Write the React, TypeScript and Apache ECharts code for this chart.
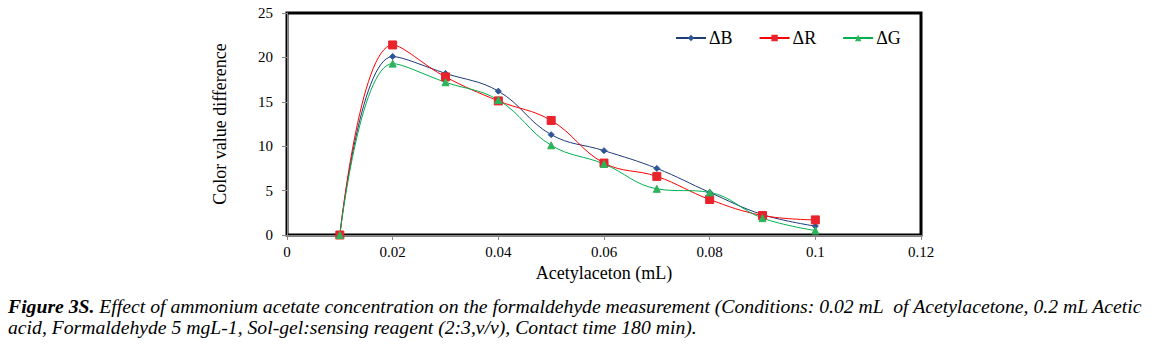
import React, { useEffect, useRef } from "react";
import * as echarts from "echarts";

const xValues = [0.01, 0.02, 0.03, 0.04, 0.05, 0.06, 0.07, 0.08, 0.09, 0.1];
const deltaB = [0, 20.1, 18.2, 16.2, 11.3, 9.5, 7.5, 4.8, 2.3, 1.0];
const deltaR = [0, 21.4, 17.8, 15.1, 12.9, 8.1, 6.6, 4.0, 2.2, 1.7];
const deltaG = [0, 19.3, 17.2, 15.2, 10.1, 8.0, 5.2, 4.8, 1.9, 0.5];
const seriesNames = ["\u0394B", "\u0394R", "\u0394G"];
const xAxisTitle = "Acetylaceton (mL)";
const yAxisTitle = "Color value difference";
const captionBold = "Figure 3S.";
const captionLine1 =
  " Effect of ammonium acetate concentration on the formaldehyde measurement (Conditions: 0.02 mL  of Acetylacetone, 0.2 mL Acetic";
const captionLine2 =
  "acid, Formaldehyde 5 mgL-1, Sol-gel:sensing reagent (2:3,v/v), Contact time 180 min).";

const FONT = "'Liberation Serif', 'Times New Roman', serif";

export default function App() {
  const ref = useRef<HTMLDivElement>(null);
  useEffect(() => {
    const chart = echarts.init(ref.current!, null, { renderer: "svg" });
    const toPairs = (arr: number[]) => xValues.map((x, i) => [x, arr[i]]);
    const colors = ["#1F3B78", "#FF0000", "#00B050"];
    const markerColors = ["#2E5597", "#E8232B", "#2DB35A"];
    const symbols = ["diamond", "rect", "triangle"];
    const sizes = [6, 8, 7];
    const datas = [deltaB, deltaR, deltaG];
    chart.setOption({
      animation: false,
      textStyle: { fontFamily: FONT },
      grid: {
        left: 287,
        top: 13,
        right: 239,
        bottom: 116,
        show: true,
        borderColor: "#000",
        borderWidth: 3,
        backgroundColor: "transparent",
      },
      legend: {
        left: 670,
        top: 24,
        itemWidth: 30,
        itemHeight: 8,
        itemGap: 26,
        textStyle: { fontFamily: FONT, fontSize: 18, color: "#000", padding: [0, 0, 0, -2] },
        data: seriesNames,
      },
      xAxis: {
        type: "value",
        min: 0,
        max: 0.12,
        interval: 0.02,
        name: xAxisTitle,
        nameLocation: "middle",
        nameGap: 24,
        nameTextStyle: { fontFamily: FONT, fontSize: 18, color: "#000" },
        axisLine: { show: true, lineStyle: { color: "#888", width: 1 } },
        axisTick: { show: true, length: 5, lineStyle: { color: "#888" } },
        axisLabel: {
          fontFamily: FONT,
          fontSize: 15,
          color: "#000",
          margin: 9,
          formatter: (v: number) => String(Math.round(v * 100) / 100),
        },
        splitLine: { show: false },
      },
      yAxis: {
        type: "value",
        min: 0,
        max: 25,
        interval: 5,
        name: yAxisTitle,
        nameLocation: "middle",
        nameGap: 58,
        nameTextStyle: { fontFamily: FONT, fontSize: 18, color: "#000" },
        axisLine: { show: true, lineStyle: { color: "#888", width: 1 } },
        axisTick: { show: true, length: 5, lineStyle: { color: "#888" } },
        axisLabel: { fontFamily: FONT, fontSize: 15, color: "#000", margin: 14 },
        splitLine: { show: false },
      },
      series: datas.map((d, i) => ({
        name: seriesNames[i],
        type: "line",
        data: toPairs(d),
        smooth: 0.4,
        symbol: symbols[i],
        symbolSize: sizes[i],
        showSymbol: true,
        lineStyle: { color: colors[i], width: 1 },
        itemStyle: { color: markerColors[i], borderColor: markerColors[i] },
      })),
      graphic: [
        {
          type: "text",
          left: 8,
          top: 296,
          style: {
            text: "{b|" + captionBold + "}{i|" + captionLine1 + "}",
            rich: {
              b: { fontFamily: FONT, fontSize: 19.7, fontWeight: "bold", fontStyle: "italic", fill: "#000" },
              i: { fontFamily: FONT, fontSize: 19.7, fontStyle: "italic", fill: "#000" },
            },
          },
        },
        {
          type: "text",
          left: 8,
          top: 317,
          style: {
            text: captionLine2,
            fontFamily: FONT,
            fontSize: 19.7,
            fontStyle: "italic",
            fill: "#000",
          },
        },
      ],
    });
    return () => chart.dispose();
  }, []);
  return (
    <div
      ref={ref}
      style={{ position: "absolute", left: 0, top: 0, width: 1160, height: 351, background: "#fff" }}
    />
  );
}
